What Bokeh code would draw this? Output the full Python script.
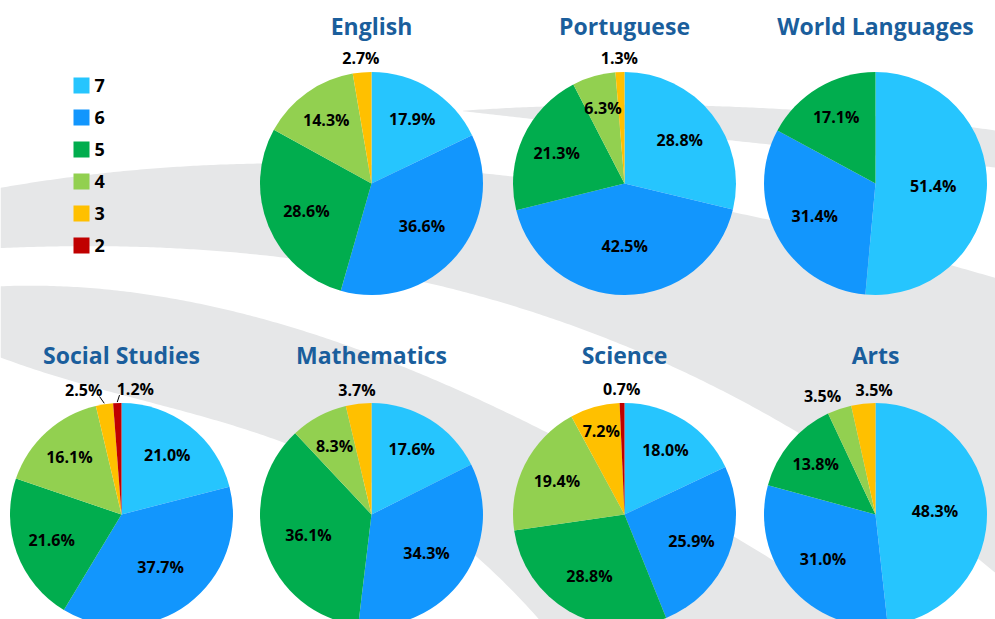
import math
import numpy as np
from bokeh.plotting import figure
from bokeh.models import Range1d
from bokeh.embed import file_html
from bokeh.resources import INLINE
from bokeh.core.properties import value

# ---------------- data ----------------
grades = ["7", "6", "5", "4", "3", "2"]
grade_colors = ["#26C5FE", "#1296FD", "#01AD4E", "#92D050", "#FFC000", "#C00000"]

subjects = ["English", "Portuguese", "World Languages",
            "Social Studies", "Mathematics", "Science", "Arts"]
english = [17.9, 36.6, 28.6, 14.3, 2.7, 0.0]
portuguese = [28.8, 42.5, 21.3, 6.3, 1.3, 0.0]
world_languages = [51.4, 31.4, 17.1, 0.0, 0.0, 0.0]
social_studies = [21.0, 37.7, 21.6, 16.1, 2.5, 1.2]
mathematics = [17.6, 34.3, 36.1, 8.3, 3.7, 0.0]
science = [18.0, 25.9, 28.8, 19.4, 7.2, 0.7]
arts = [48.3, 31.0, 13.8, 3.5, 3.5, 0.0]
series = [english, portuguese, world_languages, social_studies,
          mathematics, science, arts]

# ---------------- layout ----------------
W, H = 995, 619
R = 111.5
col_x = [121, 371, 624, 875]
row_pie_y = [183, 514]
row_title_y = [25, 354]
slots = [(1, 0), (2, 0), (3, 0), (0, 1), (1, 1), (2, 1), (3, 1)]
TITLE_COLOR = "#1A5E9C"
BAND_COLOR = "#E6E7E8"
LAB_FS = 16
CHAR_W = 9.4
FONT = "Open Sans"

bands = [
    ([(465, 110), (750, 107), (995, 130)],
     [(465, 111), (750, 142), (995, 167)]),
    ([(0, 187), (300, 165), (485, 170), (750, 217), (995, 277)],
     [(0, 248), (300, 257), (500, 305), (750, 403), (995, 573)]),
    ([(0, 285), (250, 318), (495, 405), (563, 437), (750, 550), (995, 700)],
     [(0, 357), (250, 430), (495, 577), (560, 640), (640, 760)]),
]

p = figure(width=W, height=H, x_range=Range1d(0, W), y_range=Range1d(0, H),
           output_backend="svg", toolbar_location=None, min_border=0,
           x_axis_location=None, y_axis_location=None, title=None,
           outline_line_color=None, background_fill_color="white",
           border_fill_color="white")
p.grid.visible = False


def Y(y):
    return H - y


# ---------------- background swooshes ----------------
def edge(pts, xs):
    px = [a for a, _ in pts]
    py = [b for _, b in pts]
    deg = min(3, len(pts) - 1)
    return np.polyval(np.polyfit(px, py, deg), xs)


for top_pts, bot_pts in bands:
    xs = np.linspace(0, W, 300)
    top = edge(top_pts, xs)
    bot = np.minimum(edge(bot_pts, xs), 800)
    m = bot > top
    xs, top, bot = xs[m], top[m], bot[m]
    px = list(xs) + list(xs[::-1])
    py = [Y(v) for v in top] + [Y(v) for v in bot[::-1]]
    p.patch(px, py, fill_color=BAND_COLOR, line_color=None)


# ---------------- pies ----------------
def fits(d, th, a0, a1, w, h):
    lx = d * math.sin(th)
    ly = -d * math.cos(th)
    for dx in (-w / 2, w / 2):
        for dy in (-h / 2, h / 2):
            qx, qy = lx + dx, ly + dy
            if math.hypot(qx, qy) > R - 2:
                return False
            ang = math.atan2(qx, -qy) % (2 * math.pi)
            rel = (ang - a0) % (2 * math.pi)
            if rel > a1 - a0:
                return False
    return True


wx, wy, ws, we, wc = [], [], [], [], []
lx_, ly_, lt_ = [], [], []
seg_x0, seg_y0, seg_x1, seg_y1 = [], [], [], []
tx, ty = [], []

for name, vals, (ci, ri) in zip(subjects, series, slots):
    cx, cy = col_x[ci], row_pie_y[ri]
    tx.append(cx)
    ty.append(Y(row_title_y[ri]))
    total = sum(vals)
    c = 0.0
    outside = []
    for i, v in enumerate(vals):
        if v <= 0:
            continue
        f0 = c / total
        c += v
        f1 = c / total
        wx.append(cx)
        wy.append(Y(cy))
        ws.append(math.pi / 2 - 2 * math.pi * f0)
        we.append(math.pi / 2 - 2 * math.pi * f1)
        wc.append(grade_colors[i])

        txt = f"{v:.1f}%"
        a0, a1 = 2 * math.pi * f0, 2 * math.pi * f1
        th = (a0 + a1) / 2
        frac = f1 - f0
        w, h = CHAR_W * len(txt), 0.75 * LAB_FS
        base = R * min(0.70, 0.70 - 0.5 * (frac - 0.15))
        placed = None
        for sc in (1.0, 0.75):
            d = base
            while d < 0.92 * R:
                if fits(d, th, a0, a1, w * sc, h * sc):
                    placed = d
                    break
                d += 1
            if placed is not None:
                break
        if placed is not None:
            lx_.append(cx + placed * math.sin(th))
            ly_.append(Y(cy - placed * math.cos(th)))
            lt_.append(txt)
        else:
            d = R + 14
            outside.append([cx + d * math.sin(th), cy - d * math.cos(th),
                            txt, w, a0, a1, th])
    # spread overlapping outside labels
    outside.sort(key=lambda o: o[0])
    for k in range(1, len(outside)):
        a, b = outside[k - 1], outside[k]
        need = (a[3] + b[3]) / 2 + 14
        if b[0] - a[0] < need:
            mid = (a[0] + b[0]) / 2
            a[0], b[0] = mid - need / 2, mid + need / 2
    for ox, oy, txt, w, a0, a1, th in outside:
        lx_.append(ox)
        ly_.append(Y(oy))
        lt_.append(txt)
        xa = cx + R * math.sin(a0)
        xb = cx + R * math.sin(a1)
        lo, hi = min(xa, xb), max(xa, xb)
        off = max(lo - ox, ox - hi, 0)
        if off > 12:
            seg_x0.append(cx + (R + 1) * math.sin(th))
            seg_y0.append(Y(cy - (R + 1) * math.cos(th)))
            side = -1 if ox > hi else 1
            seg_x1.append(ox + side * (w / 2 - 3))
            seg_y1.append(Y(oy + 6))

p.wedge(x=wx, y=wy, radius=R, start_angle=ws, end_angle=we,
        direction="clock", fill_color=wc, line_color=None)

if seg_x0:
    p.segment(x0=seg_x0, y0=seg_y0, x1=seg_x1, y1=seg_y1,
              line_color="black", line_width=1)

p.text(x=lx_, y=ly_, text=lt_, text_font=value(FONT), text_font_style="bold",
       text_font_size=f"{LAB_FS}px", text_align="center",
       text_baseline="middle", text_color="black")

p.text(x=tx, y=ty, text=subjects, text_font=value(FONT),
       text_font_style="bold", text_font_size="23px", text_align="center",
       text_baseline="middle", text_color=TITLE_COLOR)

# ---------------- legend ----------------
leg_y = [Y(85 + 32 * i) for i in range(len(grades))]
p.rect(x=[81] * len(grades), y=leg_y, width=16, height=16,
       fill_color=grade_colors, line_color=None)
p.text(x=[94] * len(grades), y=leg_y, text=grades, text_font=value(FONT),
       text_font_style="bold", text_font_size="18px", text_align="left",
       text_baseline="middle", text_color="black")

open("out.html", "w").write(file_html(p, INLINE))
